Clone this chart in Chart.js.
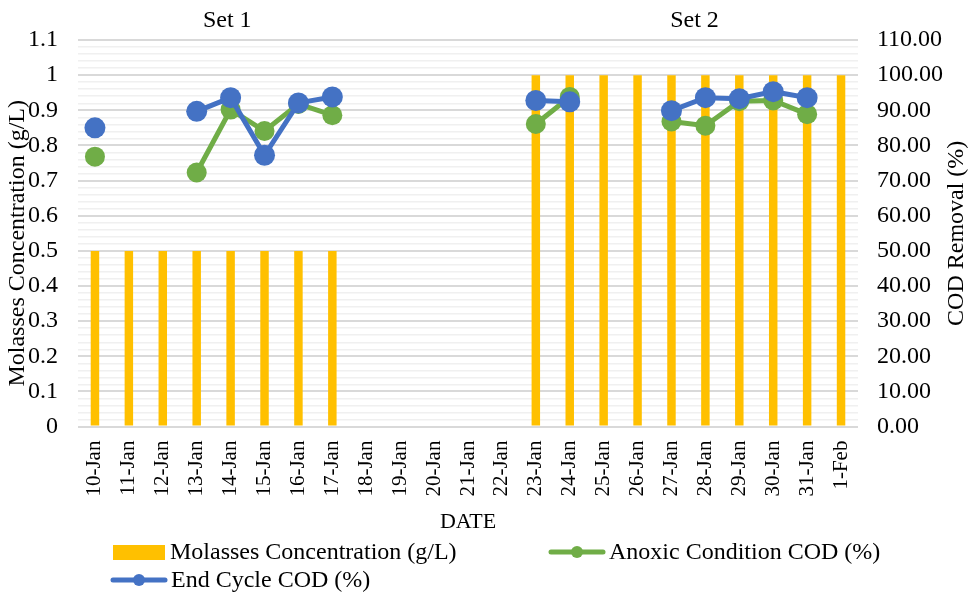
<!DOCTYPE html>
<html>
<head>
<meta charset="utf-8">
<script src="https://cdn.jsdelivr.net/npm/chart.js@4"></script>
<style>
  body { margin: 0; background: #fff; }
  #wrap { width: 970px; height: 593px; }
</style>
</head>
<body>
<div id="wrap"><canvas id="myChart"></canvas></div>
<script>
const dates = ["10-Jan", "11-Jan", "12-Jan", "13-Jan", "14-Jan", "15-Jan", "16-Jan", "17-Jan",
  "18-Jan", "19-Jan", "20-Jan", "21-Jan", "22-Jan", "23-Jan", "24-Jan", "25-Jan", "26-Jan",
  "27-Jan", "28-Jan", "29-Jan", "30-Jan", "31-Jan", "1-Feb"];

const molasses = [0.5, 0.5, 0.5, 0.5, 0.5, 0.5, 0.5, 0.5,
  0, 0, 0, 0, 0, 1, 1, 1, 1, 1, 1, 1, 1, 1, 1];

const anoxic_cod = [76.8, null, null, 72.3, 90.2, 84.1, 91.8, 88.6,
  null, null, null, null, null, 86.1, 93.8, null, null, 86.8, 85.6, 92.6, 92.8, 88.9, null];

const end_cycle_cod = [85.0, null, null, 89.7, 93.6, 77.2, 92.1, 93.8,
  null, null, null, null, null, 92.8, 92.4, null, null, 89.9, 93.6, 93.3, 95.3, 93.6, null];

const set_labels = [
  { text: "Set 1", at: 3.9 },
  { text: "Set 2", at: 17.68 },
];

const serif = "'Liberation Serif', 'Times New Roman', serif";
const BAR = "#FFC000", GREEN = "#70AD47", BLUE = "#4472C4";

// titles, set labels and legend drawn by hand
const extras = {
  id: "extras",
  afterDraw(chart) {
    const ctx = chart.ctx;
    const x = chart.scales.x, area = chart.chartArea;
    const midY = (area.top + area.bottom) / 2;
    ctx.save();
    ctx.fillStyle = "#000";
    ctx.textAlign = "center";
    ctx.textBaseline = "middle";
    ctx.font = "24px " + serif;
    set_labels.forEach(s => ctx.fillText(s.text, x.getPixelForValue(s.at), 21));

    ctx.save();
    ctx.translate(18, midY + 10);
    ctx.rotate(-Math.PI / 2);
    ctx.fillText("Molasses Concentration (g/L)", 0, 0);
    ctx.restore();
    ctx.save();
    ctx.translate(957, midY);
    ctx.rotate(-Math.PI / 2);
    ctx.fillText("COD Removal (%)", 0, 0);
    ctx.restore();

    // legend
    ctx.font = "24px " + serif;
    ctx.textAlign = "left";
    ctx.fillStyle = BAR;
    ctx.fillRect(113, 545, 52, 15);
    ctx.fillStyle = "#000";
    ctx.fillText("Molasses Concentration (g/L)", 170, 553);
    const lineItem = (x0, y, color, label) => {
      ctx.strokeStyle = color;
      ctx.lineWidth = 5;
      ctx.lineCap = "round";
      ctx.beginPath();
      ctx.moveTo(x0 + 2, y);
      ctx.lineTo(x0 + 54, y);
      ctx.stroke();
      ctx.fillStyle = color;
      ctx.beginPath();
      ctx.arc(x0 + 28, y, 6, 0, Math.PI * 2);
      ctx.fill();
      ctx.fillStyle = "#000";
      ctx.fillText(label, x0 + 60, y + 1);
    };
    lineItem(549, 552, GREEN, "Anoxic Condition COD (%)");
    lineItem(111, 580, BLUE, "End Cycle COD (%)");
    ctx.restore();
  },
};

const data = {
  labels: dates,
  datasets: [
    {
      type: "bar",
      label: "Molasses Concentration (g/L)",
      data: molasses,
      backgroundColor: BAR,
      yAxisID: "y",
      categoryPercentage: 1,
      barPercentage: 0.25,
      order: 3,
    },
    {
      type: "line",
      label: "Anoxic Condition COD (%)",
      data: anoxic_cod,
      borderColor: GREEN,
      backgroundColor: GREEN,
      borderWidth: 5,
      pointRadius: 10,
      pointBorderWidth: 0,
      spanGaps: false,
      yAxisID: "y1",
      order: 2,
    },
    {
      type: "line",
      label: "End Cycle COD (%)",
      data: end_cycle_cod,
      borderColor: BLUE,
      backgroundColor: BLUE,
      borderWidth: 5,
      pointRadius: 10.5,
      pointBorderWidth: 0,
      spanGaps: false,
      yAxisID: "y1",
      order: 1,
    },
  ],
};

const isMajor = v => Math.round(v * 100) % 10 === 0;

const config = {
  type: "bar",
  data,
  plugins: [extras],
  options: {
    responsive: true,
    maintainAspectRatio: false,
    animation: false,
    layout: { padding: { left: 8, right: 8, top: 40, bottom: 58 } },
    plugins: {
      legend: { display: false },
      tooltip: { enabled: false },
    },
    scales: {
      x: {
        grid: { display: false },
        border: { display: false },
        ticks: {
          color: "#000",
          font: { family: serif, size: 21 },
          maxRotation: 90,
          minRotation: 90,
          autoSkip: false,
          padding: 6,
        },
        title: {
          display: true,
          text: "DATE",
          color: "#000",
          font: { family: serif, size: 22 },
          padding: { top: 6, bottom: 0 },
        },
      },
      y: {
        position: "left",
        min: 0,
        max: 1.1,
        border: { display: false },
        grid: {
          drawTicks: false,
          color: c => (isMajor(c.tick.value) ? "#d9d9d9" : "#f0f0f0"),
          lineWidth: c => (isMajor(c.tick.value) ? 2 : 1.5),
        },
        ticks: {
          stepSize: 0.02,
          autoSkip: false,
          padding: 20,
          color: "#000",
          font: { family: serif, size: 24 },
          callback: v => (isMajor(v) ? String(Math.round(v * 10) / 10) : ""),
        },
      },
      y1: {
        position: "right",
        min: 0,
        max: 110,
        border: { display: false },
        grid: { display: false, drawTicks: false },
        ticks: {
          stepSize: 10,
          padding: 19,
          color: "#000",
          font: { family: serif, size: 24 },
          callback: v => v.toFixed(2),
        },
      },
    },
  },
};

const myChart = new Chart(document.getElementById("myChart"), config);
</script>
</body>
</html>
